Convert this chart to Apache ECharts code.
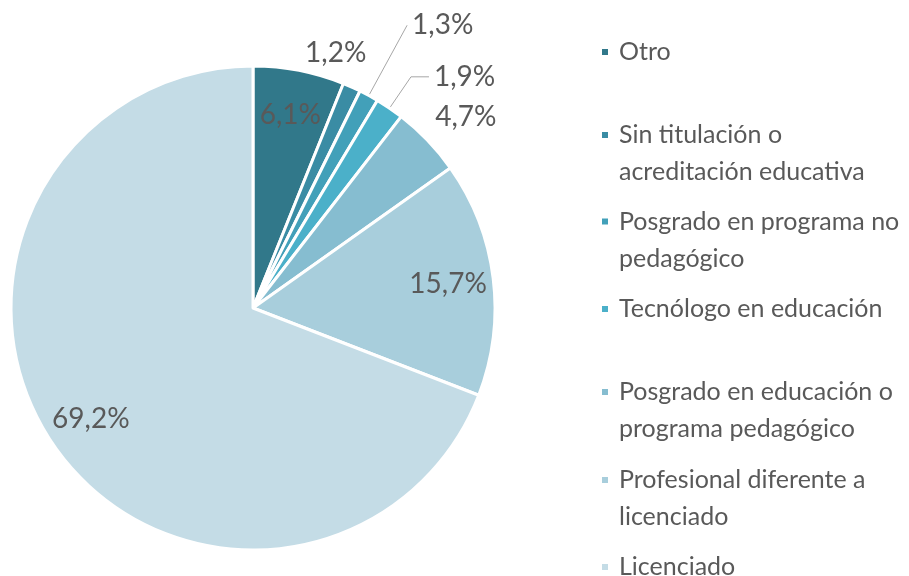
<!DOCTYPE html>
<html>
<head>
<meta charset="utf-8">
<script src="https://cdn.jsdelivr.net/npm/echarts@6/dist/echarts.min.js"></script>
<style>
  html, body { margin: 0; padding: 0; background: #fff; }
  #chart { width: 909px; height: 576px; }
</style>
</head>
<body>
<div id="chart"></div>
<script>
// categories in clockwise order from 12 o'clock
const categories = [
  "Otro",
  "Sin titulación o acreditación educativa",
  "Posgrado en programa no pedagógico",
  "Tecnólogo en educación",
  "Posgrado en educación o programa pedagógico",
  "Profesional diferente a licenciado",
  "Licenciado",
];
const shares = [6.1, 1.2, 1.3, 1.9, 4.7, 15.7, 69.2];
// how the legend breaks each name
const legendText = [
  ["Otro"],
  ["Sin titulación o", "acreditación educativa"],
  ["Posgrado en programa no", "pedagógico"],
  ["Tecnólogo en educación"],
  ["Posgrado en educación o", "programa pedagógico"],
  ["Profesional diferente a", "licenciado"],
  ["Licenciado"],
];
const colors = ["#31788a", "#3a8ca4", "#42a0b9", "#4bb0c9", "#86bdd0", "#a8cedc", "#c4dce6"];

const FONT = "Lato";
const TEXT = "#595959";
const LINE_H = 37;
const R = 242;
const CENTER = [253, 308];

// which labels sit inside the slice, which outside
const insideIdx = [0, 5, 6];
const outsideWithLine = { 2: [80, 0], 3: [38, 18] };
const outsideNoLine = { 1: [30, -64, -7], 4: [20, -12, -10] };
const legendTops = [33.5, 79.5, 166, 290.5, 336.5, 424.5, 548.5];

const fmt = (v) => v.toFixed(1).replace(".", ",") + "%";

const chart = echarts.init(document.getElementById("chart"));

const mainData = categories.map((name, i) => {
  const item = { name, value: shares[i], itemStyle: { color: colors[i] } };
  if (outsideWithLine[i]) {
    item.label = { show: true, padding: [0, 0, 20, 0] };
    item.labelLine = { show: true, length: outsideWithLine[i][0], length2: outsideWithLine[i][1] };
  } else if (outsideNoLine[i]) {
    item.label = { show: true };
    item.labelLine = { show: false, length: outsideNoLine[i][0], length2: 0 };
  } else {
    item.label = { show: false };
    item.labelLine = { show: false };
  }
  return item;
});

const labelData = categories.map((name, i) => ({
  name,
  value: shares[i],
  label: { show: insideIdx.includes(i) },
}));

// two-line names get an empty first line so the marker lines up with the first text line
const legends = categories.map((name, i) => ({
  orient: "vertical",
  left: 600,
  top: legendTops[i],
  padding: 0,
  icon: "rect",
  itemWidth: 8,
  itemHeight: 8,
  itemGap: 0,
  selectedMode: false,
  data: [name],
  formatter: () => (legendText[i].length > 1 ? " \n" : "") + legendText[i].join("\n"),
  textStyle: {
    fontFamily: FONT,
    fontSize: 25,
    color: TEXT,
    lineHeight: LINE_H,
    padding: [0, 0, 0, 5],
  },
}));

chart.setOption({
  animation: false,
  color: colors,
  legend: legends,
  series: [
    {
      name: "main",
      type: "pie",
      center: CENTER,
      radius: [0, R],
      startAngle: 90,
      clockwise: true,
      avoidLabelOverlap: false,
      silent: true,
      itemStyle: { borderColor: "#fff", borderWidth: 3 },
      label: {
        position: "outside",
        fontFamily: FONT,
        fontSize: 28,
        color: TEXT,
        formatter: (p) => fmt(p.value),
      },
      labelLine: {
        lineStyle: { color: "#a6a6a6", width: 1 },
        smooth: false,
      },
      labelLayout: (p) => {
        const o = outsideNoLine[p.dataIndex];
        return o ? { dx: o[1], dy: o[2] } : {};
      },
      data: mainData,
    },
    {
      // transparent ring used only to place the inside labels further out
      name: "labels",
      type: "pie",
      center: CENTER,
      radius: [R * 0.6, R],
      startAngle: 90,
      clockwise: true,
      silent: true,
      legendHoverLink: false,
      avoidLabelOverlap: false,
      itemStyle: { color: "rgba(0,0,0,0)", borderWidth: 0 },
      label: {
        position: "inside",
        fontFamily: FONT,
        fontSize: 28,
        color: TEXT,
        formatter: (p) => fmt(p.value),
      },
      labelLine: { show: false },
      data: labelData,
    },
  ],
});
</script>
</body>
</html>
